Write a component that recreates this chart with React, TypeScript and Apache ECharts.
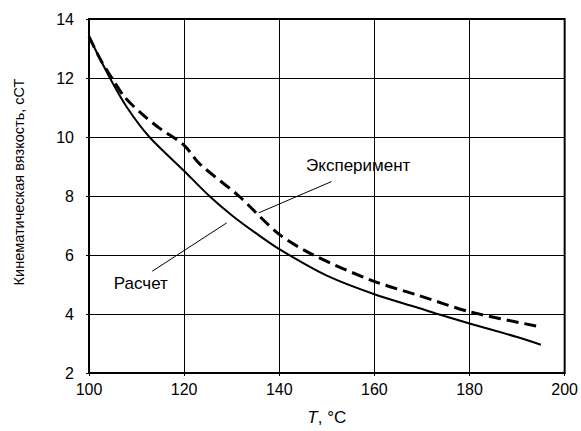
import React, { useEffect, useRef } from "react";
import * as echarts from "echarts";

const calcT = [100, 104.4, 108, 112.7, 120, 125.3, 130, 135, 140, 150, 160, 169, 173.3, 180, 190, 195];
const calcV = [13.4, 12.0, 11.0, 10.0, 8.85, 8.0, 7.35, 6.75, 6.2, 5.3, 4.67, 4.22, 4.0, 3.68, 3.22, 2.96];

const expT = [100, 102.5, 105, 107.5, 111, 114.8, 120, 123.2, 131.5, 140, 147.2, 159.4, 169.1, 180.2, 194.8];
const expV = [13.4, 12.6, 11.95, 11.35, 10.8, 10.3, 9.72, 9.1, 8.0, 6.7, 6.0, 5.14, 4.64, 4.07, 3.57];

const xTicks = [100, 120, 140, 160, 180, 200];
const yTicks = [2, 4, 6, 8, 10, 12, 14];

// annotation anchors in data units
const calcLabel = { text: "Расчет", at: [110.9, 5.02], from: [113.3, 5.45], to: [128.96, 7.09] };
const expLabel = { text: "Эксперимент", at: [156.6, 9.04], from: [135.7, 7.43], to: [151.0, 8.49] };

const FONT = "'Liberation Sans', Arial, sans-serif";

export default function App() {
  const ref = useRef<HTMLDivElement>(null);
  useEffect(() => {
    document.body.style.margin = "0";
    if (!ref.current) return;
    const chart = echarts.init(ref.current, undefined, { renderer: "svg" });
    chart.setOption({
      animation: false,
      backgroundColor: "#ffffff",
      grid: {
        left: 89,
        right: 12,
        top: 19,
        bottom: 54,
        show: true,
        borderColor: "#000",
        borderWidth: 2,
        backgroundColor: "transparent",
      },
      xAxis: {
        type: "value",
        min: xTicks[0],
        max: xTicks[xTicks.length - 1],
        interval: 20,
        axisLine: { show: true, lineStyle: { color: "#000", width: 2 } },
        axisTick: { show: true, length: 3, lineStyle: { color: "#000" } },
        axisLabel: { color: "#000", fontSize: 16, fontFamily: FONT, margin: 8 },
        splitLine: { show: true, lineStyle: { color: "#000", width: 1 } },
        name: "{i|T}, °C",
        nameLocation: "middle",
        nameGap: 36,
        nameTextStyle: {
          color: "#000",
          fontSize: 17,
          fontFamily: FONT,
          rich: { i: { fontStyle: "italic", fontSize: 17, fontFamily: FONT, color: "#000" } },
        },
      },
      yAxis: {
        type: "value",
        min: yTicks[0],
        max: yTicks[yTicks.length - 1],
        interval: 2,
        axisLine: { show: true, lineStyle: { color: "#000", width: 2 } },
        axisTick: { show: true, length: 3, lineStyle: { color: "#000" } },
        axisLabel: { color: "#000", fontSize: 16, fontFamily: FONT, margin: 15 },
        splitLine: { show: true, lineStyle: { color: "#000", width: 1 } },
      },
      series: [
        {
          type: "line",
          name: "Расчет",
          data: calcT.map((t, i) => [t, calcV[i]]),
          smooth: 0.3,
          showSymbol: false,
          lineStyle: { color: "#000", width: 2 },
          z: 5,
        },
        {
          type: "line",
          name: "Эксперимент",
          data: expT.map((t, i) => [t, expV[i]]),
          smooth: 0.3,
          showSymbol: false,
          lineStyle: { color: "#000", width: 3, type: [12, 6] },
          z: 5,
        },
      ],
    });
    const px = (p: number[]) => chart.convertToPixel({ gridIndex: 0 }, p) as number[];
    const labels = [calcLabel, expLabel];
    const graphic: any[] = [];
    labels.forEach((l) => {
      const a = px(l.from);
      const b = px(l.to);
      const c = px(l.at);
      graphic.push({
        type: "line",
        shape: { x1: a[0], y1: a[1], x2: b[0], y2: b[1] },
        style: { stroke: "#000", lineWidth: 1 },
        z: 10,
      });
      graphic.push({
        type: "text",
        x: c[0],
        y: c[1],
        style: {
          text: l.text,
          fill: "#000",
          fontSize: 17,
          fontFamily: FONT,
          align: "center",
          verticalAlign: "middle",
        },
        z: 10,
      });
    });
    graphic.push({
      type: "text",
      x: 19,
      y: 182,
      rotation: Math.PI / 2,
      style: {
        text: "Кинематическая вязкость, сСТ",
        fill: "#000",
        fontSize: 14.5,
        fontFamily: FONT,
        align: "center",
        verticalAlign: "middle",
      },
    });
    chart.setOption({ graphic });
    return () => chart.dispose();
  }, []);
  return <div ref={ref} style={{ width: 581, height: 431 }} />;
}
